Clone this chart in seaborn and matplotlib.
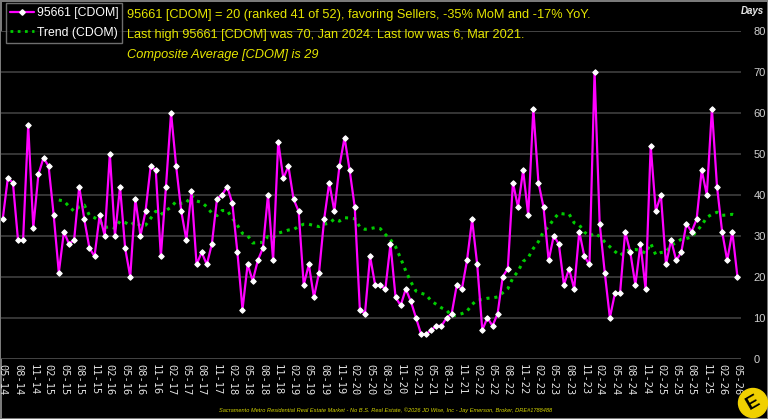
import numpy as np
import pandas as pd
import matplotlib
matplotlib.use("Agg")
import matplotlib.pyplot as plt
import seaborn as sns
from matplotlib.patches import Circle
from matplotlib.lines import Line2D

# ---- data (monthly, starting May 2014) ----
start_year, start_month = 2014, 5
cdom = [34, 44, 43, 29, 29, 57, 32, 45, 49, 47, 35, 21, 31, 28, 29, 42, 34, 27, 25, 35, 30, 50, 30, 42, 27, 20,
        39, 30, 36, 47, 46, 25, 42, 60, 47, 36, 29, 41, 23, 26, 23, 28, 39, 40, 42, 38, 26, 12, 23, 19,
        24, 27, 40, 24, 53, 44, 47, 39, 36, 18, 23, 15, 21, 34, 43, 36, 47, 54, 46, 37, 12, 11, 25, 18, 18,
        17, 28, 15, 13, 17, 14, 10, 6, 6, 7, 8, 8, 10, 11, 18, 17, 24, 34, 23, 7, 10, 8, 11, 20,
        22, 43, 37, 46, 35, 61, 43, 37, 24, 30, 28, 18, 22, 17, 31, 25, 23, 70, 33, 21, 10, 16, 16, 31,
        26, 18, 28, 17, 52, 36, 40, 23, 29, 24, 26, 33, 31, 34, 46, 40, 61, 42, 31, 24, 31, 20]
yticks = [0, 10, 20, 30, 40, 50, 60, 70, 80]
title_lines = ["95661 [CDOM] = 20 (ranked 41 of 52), favoring Sellers, -35% MoM and -17% YoY.",
               "Last high 95661 [CDOM] was 70, Jan 2024. Last low was 6, Mar 2021."]
composite_line = "Composite Average [CDOM] is 29"
footer = ("Sacramento Metro Residential Real Estate Market - No B.S. Real Estate, \u00a92026 JD Wise, Inc "
          "- Jay Emerson, Broker, DRE#1788488")

n = len(cdom)
idx = np.arange(n)
labels = []
for i in idx:
    m = (start_month - 1 + i) % 12 + 1
    y = start_year + (start_month - 1 + i) // 12
    labels.append(f"{m:02d}-{y % 100:02d}")
df = pd.DataFrame({"idx": idx, "CDOM": cdom, "label": labels})
# trend shown in chart: trailing 12-month average of the series
df["Trend"] = df["CDOM"].rolling(12).mean()

W, H = 768, 419
sns.set_style("dark")
plt.rcParams["font.family"] = ["Liberation Sans", "DejaVu Sans"]
fig = plt.figure(figsize=(W / 100, H / 100), dpi=100, facecolor="black")
fig.patch.set_edgecolor("#7a7a7a")
fig.patch.set_linewidth(2)

ax = fig.add_axes([1 / W, (H - 358.7) / H, 740 / W, (358.7 - 31) / H])
ax.set_facecolor("black")

for v in yticks:
    ax.axhline(v, color="#3a3a3a" if v not in (0, 80) else "#4a4a4a", lw=1.3, zorder=0)

sns.lineplot(data=df, x="idx", y="Trend", ax=ax, color="#00cc00", lw=2.2,
             linestyle=(0, (1, 1.6)), zorder=2)
sns.lineplot(data=df, x="idx", y="CDOM", ax=ax, color="#ff00ff", lw=1.6,
             marker="D", markersize=2.8, markerfacecolor="white", markeredgecolor="white",
             markeredgewidth=0.8, zorder=3)

ax.set_xlim(-0.33, 144.7)
ax.set_ylim(0, 80)
ax.set_xlabel("")
ax.set_ylabel("")
ax.grid(False)
for s in ax.spines.values():
    s.set_visible(False)

ax.yaxis.tick_right()
ax.set_yticks(yticks)
ax.set_yticklabels([str(v) for v in yticks], color="#d0d0d0", fontsize=8)
tick_pos = idx[::3]
ax.set_xticks(tick_pos)
ax.set_xticklabels(df["label"].iloc[::3], rotation=-90, color="#e0e0e0", fontsize=7.5,
                   family="DejaVu Sans Mono")
ax.tick_params(axis="both", length=0)
ax.tick_params(axis="y", pad=9)
ax.tick_params(axis="x", pad=4)

fig.text(752 / W, 1 - 11 / H, "Days", color="#e8e8e8", fontsize=7, fontweight="bold",
         style="italic", ha="center", va="center")

# legend
handles = [Line2D([], [], color="#ff00ff", lw=1.6, marker="D", markersize=2.8,
                  markerfacecolor="white", markeredgecolor="white"),
           Line2D([], [], color="#00cc00", lw=2, linestyle=(0, (1, 1.6)))]
leg = fig.legend(handles, ["95661 [CDOM]", "Trend (CDOM)"], loc="upper left",
                 bbox_to_anchor=(6 / W, 1 - 3 / H), frameon=True, fontsize=8.8,
                 handlelength=1.9, handletextpad=0.25, borderpad=0.35, labelspacing=0.6,
                 borderaxespad=0, fancybox=False)
leg.get_frame().set_facecolor("black")
leg.get_frame().set_edgecolor("#8a8a8a")
leg.get_frame().set_linewidth(1)
for t in leg.get_texts():
    t.set_color("white")

yellow = "#e6e600"
fig.text(127 / W, 1 - 15 / H, title_lines[0], color=yellow, fontsize=9.2, va="center", ha="left")
fig.text(127 / W, 1 - 35 / H, title_lines[1], color=yellow, fontsize=9.2, va="center", ha="left")
fig.text(127 / W, 1 - 55 / H, composite_line, color=yellow, fontsize=9.2, va="center", ha="left",
         style="italic")

fig.text(386 / W, 1 - 410 / H, footer, color="#d8d800", fontsize=4.1, style="italic",
         ha="center", va="center")

# logo
logo = Circle((7.53, (H - 403) / 100), 0.145, transform=fig.dpi_scale_trans, color="#f0d000",
              zorder=5)
fig.patches.append(logo)
fig.text(753 / W, 1 - 403 / H, "E", color="black", fontsize=14, fontweight="bold",
         ha="center", va="center", rotation=30, zorder=6)

fig.savefig("out.png", dpi=100, facecolor="black", edgecolor=fig.get_edgecolor())
